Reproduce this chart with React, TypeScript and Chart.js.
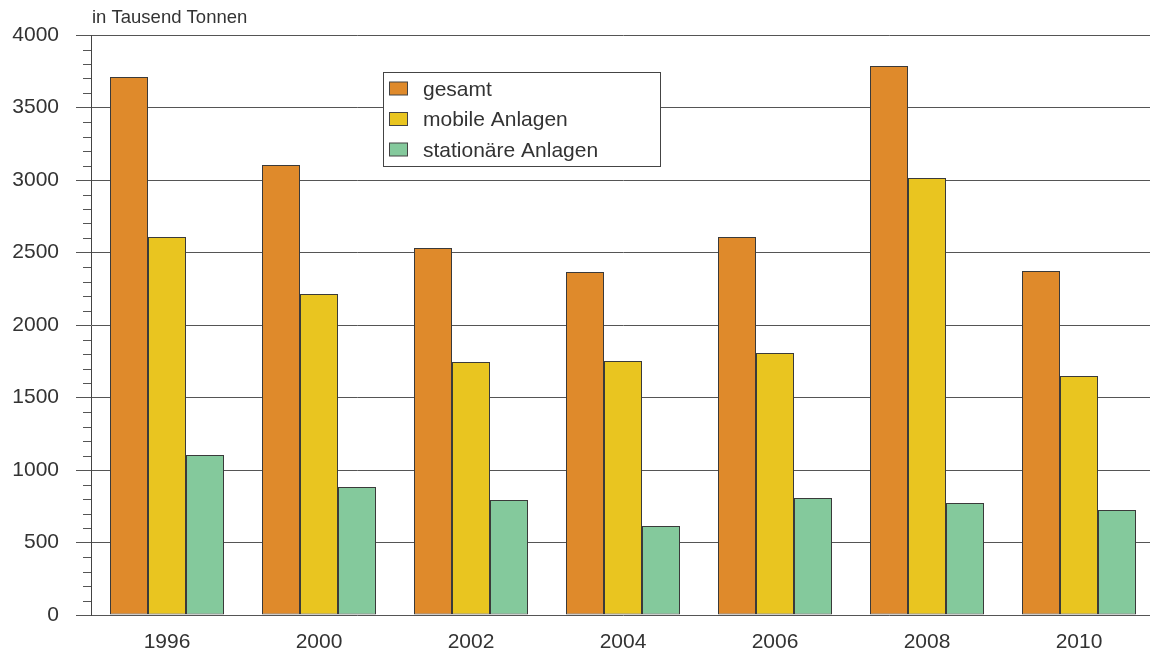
import React, { useEffect, useRef } from "react";
import { Chart, registerables } from "chart.js";

Chart.register(...registerables);

const years = ["1996", "2000", "2002", "2004", "2006", "2008", "2010"];
const gesamt = [3710, 3103, 2531, 2366, 2607, 3786, 2372];
const mobile = [2607, 2214, 1745, 1752, 1807, 3014, 1648];
const stationaer = [1103, 883, 793, 614, 807, 772, 724];
const seriesNames = ["gesamt", "mobile Anlagen", "stationäre Anlagen"];
const seriesColors = ["#DF8A2B", "#E9C520", "#84C99C"];
const unitLabel = "in Tausend Tonnen";

const FONT = "Arial, 'Liberation Sans', sans-serif";
const TEXT = "#333333";

const extras = {
  id: "extras",
  afterDraw(chart: any) {
    const ctx = chart.ctx;
    const y = chart.scales.y;
    const area = chart.chartArea;
    ctx.save();
    // minor ticks
    ctx.strokeStyle = "#555555";
    ctx.lineWidth = 1;
    for (let v = 0; v <= 4000; v += 100) {
      if (v % 500 === 0) continue;
      const py = Math.round(y.getPixelForValue(v)) + 0.5;
      ctx.beginPath();
      ctx.moveTo(area.left - 8, py);
      ctx.lineTo(area.left, py);
      ctx.stroke();
    }
    // unit label
    ctx.fillStyle = TEXT;
    ctx.font = `18.5px ${FONT}`;
    ctx.textBaseline = "middle";
    ctx.textAlign = "left";
    ctx.fillText(unitLabel, area.left + 1, 18);

    // legend
    const lx = 383.5, ly = 72.5, lw = 277, lh = 94;
    ctx.fillStyle = "#ffffff";
    ctx.fillRect(lx, ly, lw, lh);
    ctx.strokeStyle = "#444444";
    ctx.strokeRect(lx, ly, lw, lh);
    ctx.font = `21px ${FONT}`;
    seriesNames.forEach((name, i) => {
      const cy = 89 + i * 30.5;
      ctx.fillStyle = seriesColors[i];
      ctx.fillRect(389.5, cy - 7, 18, 13);
      ctx.strokeStyle = "#444444";
      ctx.strokeRect(389.5, cy - 7, 18, 13);
      ctx.fillStyle = TEXT;
      ctx.fillText(name, 423, cy + 1);
    });
    ctx.restore();
  },
};

export default function App() {
  const ref = useRef<HTMLCanvasElement | null>(null);
  useEffect(() => {
    if (!ref.current) return;
    const chart = new Chart(ref.current, {
      type: "bar",
      data: {
        labels: years,
        datasets: [gesamt, mobile, stationaer].map((d, i) => ({
          label: seriesNames[i],
          data: d,
          backgroundColor: seriesColors[i],
          borderColor: "#3a3a3a",
          borderWidth: 1,
          borderSkipped: false,
          categoryPercentage: 0.75,
          barPercentage: 1.0,
        })),
      },
      options: {
        responsive: false,
        animation: false,
        devicePixelRatio: 1,
        layout: { padding: { top: 35, right: 5, left: 0, bottom: 0 } },
        plugins: { legend: { display: false }, tooltip: { enabled: false }, title: { display: false } },
        scales: {
          x: {
            grid: { display: false, drawTicks: false },
            border: { display: false },
            ticks: { color: TEXT, font: { family: FONT, size: 21 }, padding: 15 },
            afterFit: (s: any) => { s.height = 43; },
          },
          y: {
            min: 0,
            max: 4000,
            ticks: {
              stepSize: 500,
              color: TEXT,
              font: { family: FONT, size: 21 },
              padding: 17,
              callback: (v: any) => String(v),
            },
            grid: { color: "#555555", lineWidth: 1, tickLength: 15, tickColor: "#555555" },
            border: { display: true, color: "#444444", width: 1 },
            afterFit: (s: any) => { s.width = 91; },
          },
        },
      },
      plugins: [extras],
    });
    return () => chart.destroy();
  }, []);
  return (
    <div style={{ position: "fixed", left: 0, top: 0, width: 1150, height: 658, overflow: "hidden", background: "#fff" }}>
      <canvas ref={ref} width={1160} height={658} style={{ display: "block" }} />
    </div>
  );
}
